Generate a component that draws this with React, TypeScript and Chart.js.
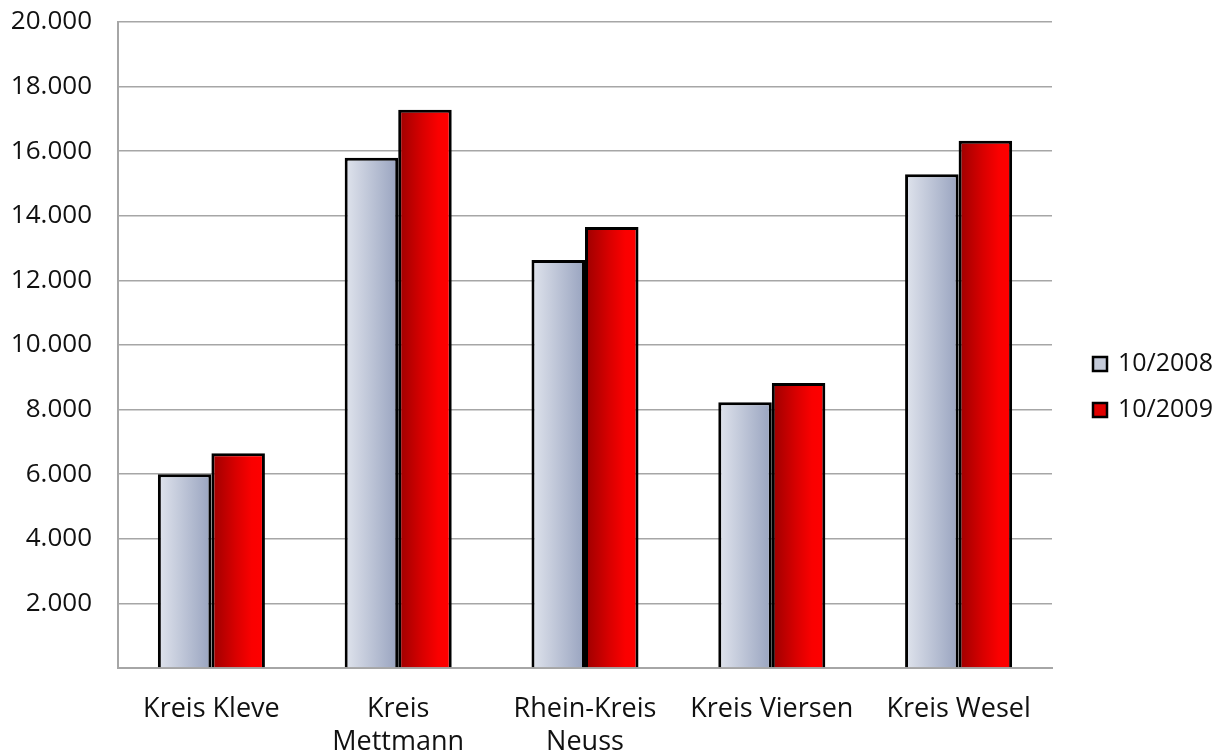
import { useEffect, useRef } from 'react';
import { Chart, registerables } from 'chart.js';

Chart.register(...registerables);

// Districts (multi-line where the label wraps)
const districts: string[][] = [
  ['Kreis Kleve'],
  ['Kreis', 'Mettmann'],
  ['Rhein-Kreis', 'Neuss'],
  ['Kreis Viersen'],
  ['Kreis Wesel'],
];

const seriesLabels = ['10/2008', '10/2009'];
const values2008 = [6000, 15800, 12630, 8230, 15290];
const values2009 = [6650, 17280, 13650, 8820, 16320];

const yMin = 0;
const yMax = 20000;
const yStep = 2000;

// Horizontal gradient stops per series
const gradientStops: [number, string][][] = [
  [
    [0, '#e0e4ed'],
    [1, '#98a3bf'],
  ],
  [
    [0, '#9c0000'],
    [0.45, '#d80000'],
    [0.75, '#fa0000'],
    [1, '#ff0000'],
  ],
];
const legendFill = ['#c4cad9', '#e00000'];

const FONT = "'Open Sans', 'DejaVu Sans', sans-serif";

const formatThousands = (n: number) => {
  if (n === 0) return '';
  const th = Math.floor(n / 1000);
  const rest = n % 1000;
  return th > 0 ? `${th}.${String(rest).padStart(3, '0')}` : String(rest);
};

const barGradientPlugin = {
  id: 'barGradient',
  beforeDatasetsDraw(chart: any) {
    const ctx = chart.ctx as CanvasRenderingContext2D;
    chart.data.datasets.forEach((_ds: any, di: number) => {
      const meta = chart.getDatasetMeta(di);
      meta.data.forEach((el: any) => {
        const { x, width } = el.getProps(['x', 'width'], true);
        const g = ctx.createLinearGradient(x - width / 2, 0, x + width / 2, 0);
        gradientStops[di].forEach(([o, c]) => g.addColorStop(o, c));
        el.options.backgroundColor = g;
      });
    });
  },
};

const sideLegendPlugin = {
  id: 'sideLegend',
  afterDraw(chart: any) {
    const ctx = chart.ctx as CanvasRenderingContext2D;
    const area = chart.chartArea;
    const boxX = area.right + 41;
    const textX = boxX + 25;
    const centerY = (area.top + area.bottom) / 2 + 42;
    const gap = 46;
    ctx.save();
    ctx.font = `25px ${FONT}`;
    ctx.textBaseline = 'middle';
    ctx.textAlign = 'left';
    chart.data.datasets.forEach((ds: any, i: number) => {
      const cy = centerY + (i - 0.5) * gap;
      ctx.fillStyle = legendFill[i];
      ctx.fillRect(boxX, cy - 7, 14, 14);
      ctx.lineWidth = 2.5;
      ctx.strokeStyle = '#000';
      ctx.strokeRect(boxX, cy - 7, 14, 14);
      ctx.fillStyle = '#111';
      ctx.fillText(ds.label, textX, cy);
    });
    ctx.restore();
  },
};

export default function App() {
  const canvasRef = useRef<HTMLCanvasElement | null>(null);

  useEffect(() => {
    const canvas = canvasRef.current;
    if (!canvas) return;
    const chart = new Chart(canvas, {
      type: 'bar',
      data: {
        labels: districts,
        datasets: [
          {
            label: seriesLabels[0],
            data: values2008,
            backgroundColor: () => legendFill[0],
            borderColor: '#000',
            borderWidth: 3,
            borderSkipped: 'bottom',
          },
          {
            label: seriesLabels[1],
            data: values2009,
            backgroundColor: () => legendFill[1],
            borderColor: '#000',
            borderWidth: 3,
            borderSkipped: 'bottom',
          },
        ],
      },
      options: {
        responsive: false,
        animation: false,
        events: [],
        layout: { padding: { left: 0, top: 22, right: 174, bottom: 0 } },
        datasets: {
          bar: { categoryPercentage: 0.573, barPercentage: 1 },
        },
        plugins: {
          legend: { display: false },
          tooltip: { enabled: false },
        },
        scales: {
          x: {
            grid: { display: false, drawTicks: false },
            border: { display: true, color: '#a6a6a6', width: 2 },
            ticks: {
              font: { family: FONT, size: 27, lineHeight: 1.22 },
              color: '#111',
              padding: 25,
              maxRotation: 0,
              autoSkip: false,
            },
            afterFit: (scale: any) => {
              scale.height = 790 - 668;
            },
          },
          y: {
            min: yMin,
            max: yMax,
            grid: {
              color: '#a6a6a6',
              lineWidth: 1.5,
              drawTicks: true,
              tickLength: 26,
              tickColor: 'rgba(0,0,0,0)',
            },
            border: { display: true, color: '#a6a6a6', width: 2 },
            ticks: {
              stepSize: yStep,
              font: { family: FONT, size: 26 },
              color: '#111',
              padding: 0,
              callback: (v: any) => formatThousands(Number(v)),
            },
            afterFit: (scale: any) => {
              scale.width = 118;
            },
          },
        },
      },
      plugins: [barGradientPlugin, sideLegendPlugin],
    });
    return () => chart.destroy();
  }, []);

  return (
    <div
      style={{
        position: 'fixed',
        left: 0,
        top: 0,
        width: 1226,
        height: 751,
        overflow: 'hidden',
        background: '#fff',
      }}
    >
      <canvas ref={canvasRef} width={1226} height={790} style={{ display: 'block' }} />
    </div>
  );
}
